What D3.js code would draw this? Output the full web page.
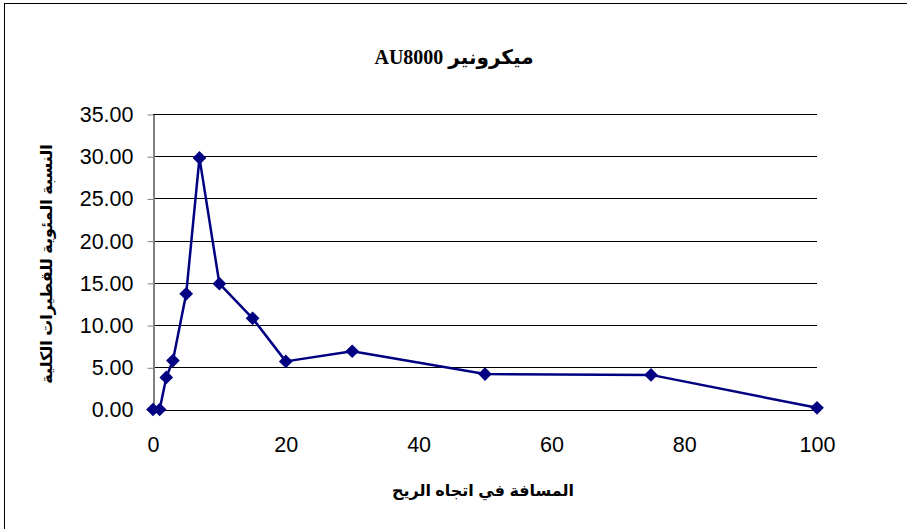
<!DOCTYPE html>
<html>
<head>
<meta charset="utf-8">
<script src="https://cdn.jsdelivr.net/npm/d3@7"></script>
<style>
  body { margin: 0; background: #fff; }
  svg { display: block; }
</style>
</head>
<body>
<div id="chart"></div>
<script>
// Data
const distances = [0, 1, 2, 3, 5, 7, 10, 15, 20, 30, 50, 75, 100];
const percents = [0, 0, 3.8, 5.8, 13.7, 29.8, 14.9, 10.8, 5.7, 6.9, 4.2, 4.1, 0.2];
const xTicks = [0, 20, 40, 60, 80, 100];
const yTicks = [0, 5, 10, 15, 20, 25, 30, 35];

const titleText = "ميكرونير AU8000";
const xLabel = "المسافة في اتجاه الريح";
const yLabel = "النسبة المئوية للقطيرات الكلية";

const W = 907, H = 529;
const plot = { left: 153, right: 817, top: 114, bottom: 409.5 };
const navy = "#000080";

const svg = d3.select("#chart").append("svg")
    .attr("width", W)
    .attr("height", H);

// outer frame (right and bottom run off the page)
svg.append("rect")
    .attr("x", 4.5).attr("y", 3.5)
    .attr("width", 904).attr("height", 540)
    .attr("fill", "#fff")
    .attr("stroke", "#000")
    .attr("stroke-width", 1);

const x = d3.scaleLinear().domain([0, 100]).range([plot.left, plot.right]);
const y = d3.scaleLinear().domain([0, 35]).range([plot.bottom, plot.top]);

// gridlines
svg.append("g")
    .selectAll("line")
    .data(yTicks)
    .join("line")
    .attr("x1", plot.left).attr("x2", plot.right)
    .attr("y1", d => Math.round(y(d)) + 0.5)
    .attr("y2", d => Math.round(y(d)) + 0.5)
    .attr("stroke", "#000")
    .attr("stroke-width", 1);

// y axis
const yAxis = svg.append("g")
    .attr("transform", `translate(${plot.left + 0.5},0.5)`)
    .call(d3.axisLeft(y).tickValues(yTicks).tickFormat(d3.format(".2f")).tickSize(6).tickSizeOuter(0));
yAxis.select(".domain").attr("stroke", "#808080").attr("stroke-width", 2);
yAxis.selectAll(".tick line").attr("stroke", "#808080");
yAxis.selectAll(".tick text")
    .attr("x", -20)
    .attr("font-family", "'Liberation Sans', Arial, sans-serif")
    .attr("font-size", 21.5)
    .attr("fill", "#000");

// x axis (labels only, the 0 gridline serves as the axis)
const xAxis = svg.append("g")
    .attr("transform", `translate(0,${plot.bottom})`)
    .call(d3.axisBottom(x).tickValues(xTicks).tickSize(0).tickSizeOuter(0));
xAxis.select(".domain").remove();
xAxis.selectAll(".tick text")
    .attr("y", 42)
    .attr("dy", 0)
    .attr("font-family", "'Liberation Sans', Arial, sans-serif")
    .attr("font-size", 21.5)
    .attr("fill", "#000");

// series line
const line = d3.line()
    .x((d, i) => x(distances[i]))
    .y(d => y(d));

svg.append("path")
    .datum(percents)
    .attr("d", line)
    .attr("fill", "none")
    .attr("stroke", navy)
    .attr("stroke-width", 2.5)
    .attr("stroke-linejoin", "round");

// diamond markers
const diamond = d3.symbol().type(d3.symbolDiamond2).size(120);
svg.append("g")
    .selectAll("path")
    .data(percents)
    .join("path")
    .attr("d", diamond)
    .attr("transform", (d, i) => `translate(${x(distances[i])},${y(d)})`)
    .attr("fill", navy);

// title
svg.append("text")
    .attr("x", 454).attr("y", 64)
    .attr("text-anchor", "middle")
    .attr("direction", "rtl")
    .attr("font-family", "'Liberation Serif', 'DejaVu Sans', serif")
    .attr("font-weight", "bold")
    .attr("font-size", 20)
    .text(titleText);

// x label
svg.append("text")
    .attr("x", 483).attr("y", 496)
    .attr("text-anchor", "middle")
    .attr("direction", "rtl")
    .attr("font-family", "'Liberation Sans', 'DejaVu Sans', sans-serif")
    .attr("font-weight", "bold")
    .attr("font-size", 16)
    .text(xLabel);

// y label
svg.append("text")
    .attr("transform", "translate(52,264) rotate(-90)")
    .attr("text-anchor", "middle")
    .attr("direction", "rtl")
    .attr("font-family", "'Liberation Sans', 'DejaVu Sans', sans-serif")
    .attr("font-weight", "bold")
    .attr("font-size", 16)
    .text(yLabel);
</script>
</body>
</html>
